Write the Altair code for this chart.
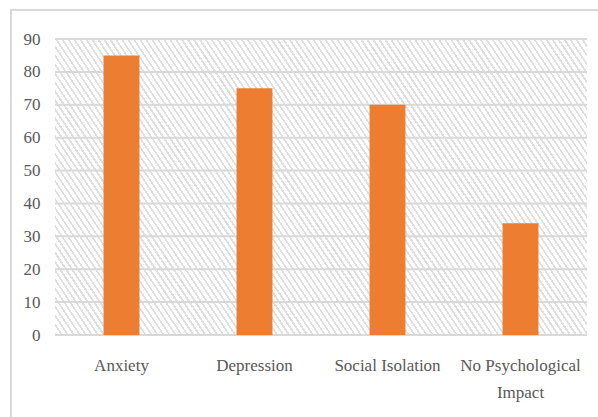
import math
import altair as alt
import pandas as pd

categories = ["Anxiety", "Depression", "Social Isolation", "No Psychological Impact"]
values = [85, 75, 70, 34]
y_ticks = [0, 10, 20, 30, 40, 50, 60, 70, 80, 90]

df = pd.DataFrame({"category": categories, "value": values})
grid_df = pd.DataFrame({"tick": y_ticks})

W, H = 532, 296
PAD = {"left": 55, "top": 39, "right": 11, "bottom": 82}
FONT = "Liberation Serif"
TXT = "#595959"
GRID = "#d9d9d9"

# hatch pattern as a striped linear gradient (style only)
k = 1.5            # slope of the stripes (down-right)
p = 6.0            # horizontal period in px
frac = 0.35        # stripe share of each period
R = k * W + H
a = R / (k * k * W * W + H * H)
d = p * k / math.sqrt(1 + k * k)
N = int(round(R / math.sqrt(1 + k * k) / d))
stops = []
for i in range(N):
    o0 = i / N
    o1 = (i + frac) / N
    o2 = (i + 1) / N
    stops += [
        {"offset": o0, "color": "#e0e0e0"},
        {"offset": o1, "color": "#e0e0e0"},
        {"offset": o1, "color": "#ffffff"},
        {"offset": o2, "color": "#ffffff"},
    ]
hatch = {"gradient": "linear", "x1": 0, "y1": 1, "x2": a * k * W, "y2": 1 - a * H, "stops": stops}

x_enc = alt.X(
    "category:N",
    sort=categories,
    scale=alt.Scale(paddingInner=0.73, paddingOuter=0.365),
    axis=alt.Axis(
        title=None, labelAngle=0, domain=False, ticks=False,
        labelFont=FONT, labelFontSize=17, labelColor=TXT,
        labelPadding=22, labelLineHeight=27,
        labelExpr="datum.label == 'No Psychological Impact' ? ['No Psychological', 'Impact'] : datum.label",
    ),
)
y_scale = alt.Scale(domain=[0, 90], nice=False)
y_axis = alt.Axis(title=None, values=y_ticks, grid=False, domain=False, ticks=False,
                  labelFont=FONT, labelFontSize=17, labelColor=TXT, labelPadding=15)

background = alt.Chart(alt.Data(values=[{}])).mark_rect(fill=hatch, strokeWidth=0).encode(
    x=alt.value(0), x2=alt.value("width"), y=alt.value(0), y2=alt.value("height")
)

grid = alt.Chart(grid_df).mark_rule(color=GRID, strokeWidth=2).encode(
    y=alt.Y("tick:Q", scale=y_scale, axis=y_axis),
    x=alt.value(0), x2=alt.value("width"),
)

bars = alt.Chart(df).mark_bar(color="#ED7D31").encode(
    x=x_enc,
    y=alt.Y("value:Q", scale=y_scale, axis=y_axis),
)

frame_left = alt.Chart(alt.Data(values=[{}])).mark_rule(color=GRID, strokeWidth=2).encode(
    x=alt.value(-44), y=alt.value(-29), y2=alt.value(380)
)
frame_top = alt.Chart(alt.Data(values=[{}])).mark_rule(color=GRID, strokeWidth=2).encode(
    y=alt.value(-29), x=alt.value(-45), x2=alt.value(545)
)

chart = alt.layer(background, grid, bars, frame_left, frame_top).properties(
    width=W, height=H, padding=PAD, autosize=alt.AutoSizeParams(type="none"),
    background="white",
).configure_view(stroke=None)

chart.save("out.html", embed_options={"renderer": "svg", "actions": False})
